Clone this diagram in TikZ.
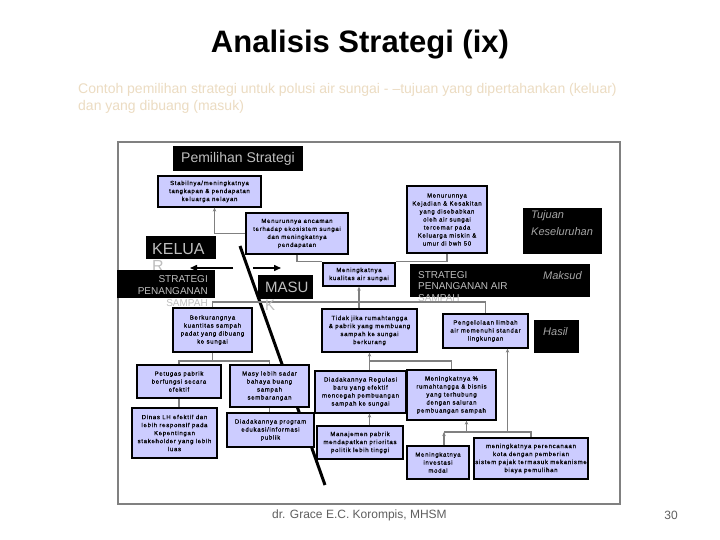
\documentclass[tikz,border=0pt]{standalone}
\usepackage{fontspec}
\setmainfont{Liberation Sans}
\newfontfamily\boxfont[LetterSpace=12,FakeBold=0.6]{Liberation Sans}
\usetikzlibrary{arrows.meta,calc}
\definecolor{boxfill}{RGB}{204,204,255}
\definecolor{subcol}{RGB}{236,220,194}
\definecolor{conncol}{RGB}{128,128,128}
\definecolor{labtxt}{RGB}{190,190,190}
\definecolor{labtxtb}{RGB}{165,165,165}
\definecolor{footcol}{RGB}{95,95,95}
\begin{document}
\begin{tikzpicture}[x=1pt,y=-1pt,
  bx/.style={draw=black,line width=1.3pt,fill=boxfill,inner sep=0pt,align=center,
    font=\boxfont\fontsize{6}{8}\selectfont},
  blk/.style={fill=black,draw=none,inner sep=0pt},
  conn/.style={draw=conncol,line width=1.1pt},
  arr/.style={-{Stealth[length=4pt,width=3.5pt]}},
  bigarr/.style={draw=black,line width=1.5pt,-{Triangle[length=7pt,width=6pt]}},
  lab/.style={inner sep=0pt,text=labtxt},
  labi/.style={inner sep=0pt,text=labtxtb,font=\fontsize{11}{13}\selectfont\itshape}]
\useasboundingbox (0,0) rectangle (720,540);
\fill[white] (0,0) rectangle (720,540);

% title and subtitle
\node[font=\fontsize{31}{36}\selectfont\bfseries] (title) at (360,45) {Analisis Strategi (ix)};
\node[anchor=west,inner sep=0pt,text=subcol,font=\fontsize{14}{17}\selectfont] (sub1) at (78,90)
  {Contoh pemilihan strategi untuk polusi air sungai - --tujuan yang dipertahankan (keluar)};
\node[anchor=west,inner sep=0pt,text=subcol,font=\fontsize{14}{17}\selectfont] (sub2) at (78,107)
  {dan yang dibuang (masuk)};

% frame
\draw[draw=conncol,line width=1.2pt] (118,142) rectangle (620,504);

% diagonal
\coordinate (d1) at (240,246);
\coordinate (d2) at (325,485);
\draw[line width=3pt] (d1) -- (d2);

% boxes
\node[bx,minimum width=103,minimum height=31] (b1) at (209.5,191.5) {Stabilnya/meningkatnya\\tangkapan \& pendapatan\\keluarga nelayan};
\node[bx,minimum width=102,minimum height=41] (b2) at (297,233.5) {Menurunnya ancaman\\terhadap ekosistem sungai\\dan meningkatnya\\pendapatan};
\node[bx,minimum width=80,minimum height=67] (b3) at (447,219.5) {Menurunnya\\Kejadian \& Kesakitan\\yang disebabkan\\oleh air sungai\\tercemar pada\\Keluarga miskin \&\\umur di bwh 50};
\node[bx,minimum width=72,minimum height=23] (b4) at (359,274.5) {Meningkatnya\\kualitas air sungai};
\node[bx,minimum width=79,minimum height=44] (b5) at (212.5,330) {Berkurangnya\\kuantitas sampah\\padat yang dibuang\\ke sungai};
\node[bx,minimum width=95,minimum height=43] (b6) at (369.5,330.5) {Tidak jika rumahtangga\\\& pabrik yang membuang\\sampah ke sungai\\berkurang};
\node[bx,minimum width=85,minimum height=34] (b7) at (485.5,331) {Pengelolaan limbah\\air memenuhi standar\\lingkungan};
\node[bx,minimum width=84,minimum height=33] (b8) at (179,381.5) {Petugas pabrik\\berfungsi secara\\efektif};
\node[bx,minimum width=79,minimum height=42] (b9) at (269.5,386) {Masy lebih sadar\\bahaya buang\\sampah\\sembarangan};
\node[bx,minimum width=85,minimum height=50] (b10) at (174.5,433) {Dinas LH efektif dan\\lebih responsif pada\\Kepentingan\\stakeholder yang lebih\\luas};
\node[bx,minimum width=87,minimum height=34] (b11) at (270.5,430) {Diadakannya program\\edukasi/informasi\\publik};
\node[bx,minimum width=91,minimum height=42] (b12) at (360.5,392) {Diadakannya Regulasi\\baru yang efektif\\mencegah pembuangan\\sampah ke sungai};
\node[bx,minimum width=86,minimum height=33] (b13) at (360,442.5) {Manajemen pabrik\\mendapatkan prioritas\\politik lebih tinggi};
\node[bx,minimum width=89,minimum height=50] (b14) at (451.5,395) {Meningkatnya \%\\rumahtangga \& bisnis\\yang terhubung\\dengan saluran\\pembuangan sampah};
\node[bx,minimum width=62,minimum height=33] (b15) at (438,462.5) {Meningkatnya\\investasi\\modal};
\node[bx,minimum width=114,minimum height=41] (b16) at (531,458.5) {meningkatnya perencanaan\\kota dengan pemberian\\sistem pajak termasuk mekanisme\\biaya pemulihan};

% helper levels
\coordinate (yb1) at (0,302);
\coordinate (yb2) at (0,361);
\coordinate (yb3) at (0,432);

% connectors
\draw[conn,arr] (b2.west) -| ([xshift=5pt]b1.south);
\draw[conn] (b2.south) |- ([yshift=1pt]b4.north west);
\draw[conn] (b3.south) |- ([yshift=1pt]b4.north east);
\draw[conn,arr] (b4.south |- b6.north) -- (b4.south);
\draw[conn] (b5.north) |- (b7.north |- yb1) -- (b7.north);
\draw[conn] (b5.south) -- (b5.south |- yb2);
\draw[conn] (b8.north) |- (b9.north |- yb2) -- (b9.north);
\draw[conn] (b8.south) -- (b8.south |- b10.north);
\draw[conn] (b9.south) -- (b9.south |- b11.north);
\draw[conn,arr] (b6.south |- yb2) -- (b6.south);
\draw[conn] (b6.south |- b12.north) -- (b6.south |- yb2) -| (b14.north);
\draw[conn,arr] (b6.south |- b13.north) -- (b6.south |- b12.south);
\draw[conn] ([xshift=6pt]b15.north |- yb3) -| (b16.north);
\draw[conn,arr] ([xshift=6pt]b15.north) -- ([xshift=6pt]b15.north |- yb3);
\draw[conn,arr] ([xshift=15pt]b14.south |- yb3) -- ([xshift=15pt]b14.south);
\draw[conn,arr] ([xshift=22pt]b7.south |- yb3) -- ([xshift=22pt]b7.south);

% black labels
\node[blk,minimum width=130,minimum height=25,text=labtxt,font=\fontsize{14}{16}\selectfont] (pem) at (238,158.5) {Pemilihan Strategi};
\node[blk,minimum width=70,minimum height=23] (kel) at (181,247.5) {};
\node[lab,anchor=west,font=\fontsize{16}{18}\selectfont] (kel1) at (152,249) {KELUA};
\node[lab,anchor=west,font=\fontsize{16}{18}\selectfont] (kel2) at (152,266) {R};
\node[blk,minimum width=98,minimum height=28] (ss) at (166,284) {};
\node[lab,anchor=east,font=\fontsize{10}{12}\selectfont] (ss1) at (208,279) {STRATEGI};
\node[lab,anchor=east,font=\fontsize{10}{12}\selectfont] (ss2) at (208,291.5) {PENANGANAN};
\node[lab,anchor=east,font=\fontsize{10}{12}\selectfont] (ss3) at (208,303.5) {SAMPAH};
\node[blk,minimum width=55,minimum height=24] (mas) at (285.5,287) {};
\node[lab,anchor=west,font=\fontsize{15}{17}\selectfont] (mas1) at (265,287.5) {MASU};
\node[lab,anchor=west,font=\fontsize{15}{17}\selectfont] (mas2) at (265,305) {K};
\node[blk,minimum width=124,minimum height=33] (sa) at (472,280.5) {};
\node[lab,anchor=west,font=\fontsize{10}{12}\selectfont] (sa1) at (418,275) {STRATEGI};
\node[lab,anchor=west,font=\fontsize{10}{12}\selectfont] (sa2) at (418,286.5) {PENANGANAN AIR};
\node[lab,anchor=west,font=\fontsize{10}{12}\selectfont] (sa3) at (418,298) {SAMPAH};
\node[blk,minimum width=56,minimum height=33] (mak) at (562,280.5) {};
\node[labi,anchor=west] (mak1) at (543,276) {Maksud};
\node[blk,minimum width=79,minimum height=46] (tuj) at (562.5,231) {};
\node[labi,anchor=west] (tuj1) at (531,216) {Tujuan};
\node[labi,anchor=west] (tuj2) at (531,232) {Keseluruhan};
\node[blk,minimum width=45,minimum height=33] (has) at (556.5,336.5) {};
\node[labi,anchor=west] (has1) at (543,332) {Hasil};

% keluar / masuk arrows
\coordinate (ka) at (233,268);
\coordinate (kb) at (190,268);
\coordinate (ma) at (253,268);
\coordinate (mb) at (281,268);
\draw[bigarr] (ka) -- (kb);
\draw[bigarr] (ma) -- (mb);

% footer
\node[anchor=west,inner sep=0pt,text=footcol,font=\fontsize{12}{14}\selectfont] (foot) at (272,515) {dr. Grace E.C. Korompis, MHSM};
\node[inner sep=0pt,text=footcol,font=\fontsize{12}{14}\selectfont] (pg) at (671,515) {30};
\end{tikzpicture}
\end{document}
